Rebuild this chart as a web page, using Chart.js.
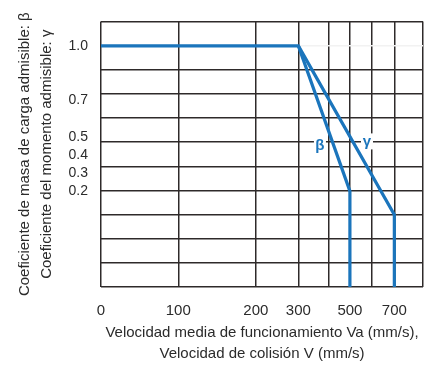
<!DOCTYPE html>
<html lang="es">
  <head>
    <meta charset="UTF-8" />
    <title>Coeficiente admisible vs velocidad</title>
    <script src="https://cdn.jsdelivr.net/npm/chart.js"></script>
    <style>
      html, body { margin: 0; padding: 0; background: #fff; }
      #wrap { width: 438px; height: 365px; }
    </style>
  </head>
  <body>
    <div id="wrap"><canvas id="coefChart"></canvas></div>

    <script>
      // beta: allowable load mass coefficient, gamma: allowable moment coefficient
      const betaSpeed = [0, 300, 500];
      const betaCoef = [1.0, 1.0, 0.2];
      const gammaSpeed = [300, 700];
      const gammaCoef = [1.0, 0.07];

      // speed grid and the ones that carry a label
      const xGridValues = [0, 100, 200, 300, 400, 500, 600, 700, 800];
      const xTickLabels = [0, 100, 200, 300, 500, 700];
      const yTickValues = [1.0, 0.7, 0.5, 0.4, 0.3, 0.2];

      // curve letters and where they sit (speed, coefficient)
      const letterText = ["β", "γ"];
      const letterSpeed = [372, 578];
      const letterCoef = [0.452, 0.474];

      // the speed axis is not uniform: value -> fraction of axis width
      const xStops = [
        [0, 0], [100, 0.24], [200, 0.481], [300, 0.613], [400, 0.706],
        [500, 0.773], [600, 0.841], [700, 0.911], [800, 1]
      ];

      const Y_MIN = -0.328;
      const Y_MAX = 1.135;
      const BLUE = "#1b75bc";
      const GRID = "#2e2a2a";
      const TEXT = "#2b2b2b";
      const FONT = "'Liberation Sans', Arial, sans-serif";

      function fractionFor(v) {
        if (v <= xStops[0][0]) return xStops[0][1];
        for (let i = 1; i < xStops.length; i++) {
          const [v1, f1] = xStops[i];
          const [v0, f0] = xStops[i - 1];
          if (v <= v1) return f0 + ((v - v0) / (v1 - v0)) * (f1 - f0);
        }
        return xStops[xStops.length - 1][1];
      }

      function valueFor(f) {
        for (let i = 1; i < xStops.length; i++) {
          const [v1, f1] = xStops[i];
          const [v0, f0] = xStops[i - 1];
          if (f <= f1) return v0 + ((f - f0) / (f1 - f0)) * (v1 - v0);
        }
        return xStops[xStops.length - 1][0];
      }

      class SteppedScale extends Chart.LinearScale {
        getPixelForValue(value) {
          return this.getPixelForDecimal(fractionFor(value));
        }
        getValueForPixel(pixel) {
          return valueFor(this.getDecimalForPixel(pixel));
        }
      }
      SteppedScale.id = "stepped";
      SteppedScale.defaults = Chart.LinearScale.defaults;
      Chart.register(SteppedScale);

      // vertical drop down to the bottom of the plot after each curve ends
      const betaPoints = betaSpeed.map((s, i) => ({ x: s, y: betaCoef[i] }));
      betaPoints.push({ x: betaSpeed[betaSpeed.length - 1], y: Y_MIN });
      const gammaPoints = gammaSpeed.map((s, i) => ({ x: s, y: gammaCoef[i] }));
      gammaPoints.push({ x: gammaSpeed[gammaSpeed.length - 1], y: Y_MIN });

      const curveLetters = {
        id: "curveLetters",
        beforeDatasetsDraw(chart) {
          const { ctx, scales } = chart;
          ctx.save();
          ctx.fillStyle = "#fff";
          letterText.forEach((t, i) => {
            const px = scales.x.getPixelForValue(letterSpeed[i]);
            const py = scales.y.getPixelForValue(letterCoef[i]);
            ctx.fillRect(px - 6, py - 8, 12, 16);
          });
          ctx.restore();
        },
        afterDatasetsDraw(chart) {
          const { ctx, scales } = chart;
          ctx.save();
          ctx.font = "bold 15px " + FONT;
          ctx.fillStyle = BLUE;
          ctx.textAlign = "center";
          ctx.textBaseline = "middle";
          letterText.forEach((t, i) => {
            ctx.fillText(
              t,
              scales.x.getPixelForValue(letterSpeed[i]),
              scales.y.getPixelForValue(letterCoef[i])
            );
          });
          ctx.restore();
        },
      };

      new Chart(document.getElementById("coefChart"), {
        type: "line",
        data: {
          datasets: [
            { label: "β", data: betaPoints },
            { label: "γ", data: gammaPoints },
          ],
        },
        plugins: [curveLetters],
        options: {
          responsive: true,
          maintainAspectRatio: false,
          animation: false,
          events: [],
          layout: { padding: { left: 0, top: 12, right: 6, bottom: 0 } },
          elements: {
            point: { radius: 0 },
            line: {
              borderColor: BLUE,
              borderWidth: 3.2,
              tension: 0,
              fill: false,
              borderJoinStyle: "miter",
            },
          },
          plugins: {
            legend: { display: false },
            tooltip: { enabled: false },
          },
          scales: {
            x: {
              type: "stepped",
              min: 0,
              max: 800,
              afterBuildTicks: (s) => {
                s.ticks = xGridValues.map((v) => ({ value: v }));
              },
              afterFit: (s) => {
                s.height = 78;
              },
              ticks: {
                autoSkip: false,
                maxRotation: 0,
                padding: 15,
                color: TEXT,
                font: { family: FONT, size: 15 },
                callback: (v) => (xTickLabels.includes(v) ? String(v) : ""),
              },
              grid: { color: GRID, lineWidth: 1.5, drawTicks: false },
              border: { display: false },
              title: {
                display: true,
                text: [
                  "Velocidad media de funcionamiento Va (mm/s),",
                  "Velocidad de colisión V (mm/s)",
                ],
                color: TEXT,
                font: { family: FONT, size: 15, lineHeight: 1.4 },
                padding: { top: 0, bottom: 1 },
              },
            },
            y: {
              type: "linear",
              min: Y_MIN,
              max: Y_MAX,
              afterBuildTicks: (s) => {
                s.ticks = yTickValues.map((v) => ({ value: v }));
              },
              afterFit: (s) => {
                s.width = 101;
              },
              ticks: {
                padding: 13,
                color: TEXT,
                font: { family: FONT, size: 14 },
                callback: (v) => v.toFixed(1),
              },
              grid: { display: false, drawTicks: false },
              border: { display: false },
              title: {
                display: true,
                text: [
                  "Coeficiente de masa de carga admisible: β",
                  "Coeficiente del momento admisible: γ",
                ],
                color: TEXT,
                font: { family: FONT, size: 15, lineHeight: 1.45 },
                padding: { top: 14, bottom: 0 },
              },
            },
            yRows: {
              axis: "y",
              type: "linear",
              position: "right",
              reverse: true,
              min: 0,
              max: 11,
              afterFit: (s) => {
                s.width = 0;
              },
              ticks: { stepSize: 1, display: false },
              grid: {
                color: (c) => (c.index === 10 ? "#f2f2f2" : GRID),
                lineWidth: 1.5,
                drawTicks: false,
              },
              border: { display: false },
            },
          },
        },
      });
    </script>
  </body>
</html>
